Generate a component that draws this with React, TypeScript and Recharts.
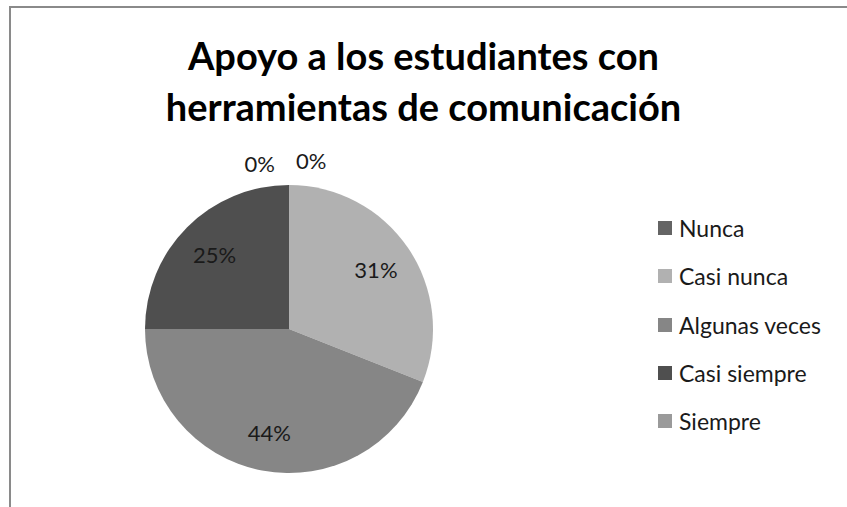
import React from "react";
import { PieChart, Pie, Cell, Legend } from "recharts";

const categories = ["Nunca", "Casi nunca", "Algunas veces", "Casi siempre", "Siempre"];
const values = [0, 31, 44, 25, 0];
const colors = ["#646464", "#b1b1b1", "#868686", "#4f4f4f", "#9a9a9a"];
const titleLines = ["Apoyo a los estudiantes con", "herramientas de comunicación"];

const data = categories.map((name, i) => ({ name, value: values[i] }));
const total = values.reduce((a, b) => a + b, 0);

const FONT = "Lato, 'Open Sans', sans-serif";
const RAD = Math.PI / 180;

const renderLabel = (props: any) => {
  const { cx, cy, midAngle, outerRadius, value, index } = props;
  const pct = Math.round((value / total) * 100);
  const text = `${pct}%`;
  if (value === 0) {
    const first = index === 0;
    const r = outerRadius + (first ? 25 : 22);
    const x = cx + r * Math.cos(-midAngle * RAD) + (first ? 7 : -14);
    const y = cy + r * Math.sin(-midAngle * RAD);
    return (
      <text x={x} y={y} fill="#1a1a1a" fontSize={22} fontFamily={FONT}
        textAnchor={first ? "start" : "end"} dominantBaseline="central">
        {text}
      </text>
    );
  }
  const r = outerRadius * 0.73;
  const x = cx + r * Math.cos(-midAngle * RAD);
  const y = cy + r * Math.sin(-midAngle * RAD);
  return (
    <text x={x} y={y} fill="#1a1a1a" fontSize={22} fontFamily={FONT}
      textAnchor="middle" dominantBaseline="central">
      {text}
    </text>
  );
};

const LegendContent = () => (
  <div style={{ fontFamily: FONT }}>
    {categories.map((name, i) => (
      <div key={name} style={{ display: "flex", alignItems: "center", height: 48.25 }}>
        <div style={{ width: 14, height: 14, background: colors[i], marginRight: 7, flex: "none" }} />
        <span style={{ fontSize: 23, color: "#1a1a1a", lineHeight: "24px", whiteSpace: "nowrap" }}>{name}</span>
      </div>
    ))}
  </div>
);

export default function App() {
  return (
    <div style={{ position: "absolute", left: 0, top: 0, width: 847, height: 507, background: "#fff", overflow: "hidden" }}>
      <div style={{ position: "absolute", left: 9, top: 6, width: 860, height: 520, borderTop: "2px solid #8a8a8a", borderLeft: "2px solid #8a8a8a" }} />
      {titleLines.map((t, i) => (
        <div key={i} style={{ position: "absolute", left: 0, width: 847, top: i === 0 ? 32 : 83, textAlign: "center", fontFamily: FONT, fontWeight: 700, fontSize: 38, lineHeight: "46px", color: "#000" }}>
          {t}
        </div>
      ))}
      <div style={{ position: "absolute", left: 0, top: 0 }}>
        <PieChart width={847} height={507} margin={{ top: 0, right: 0, bottom: 0, left: 0 }}>
          <Pie
            data={data}
            dataKey="value"
            nameKey="name"
            cx={289}
            cy={329}
            outerRadius={144}
            startAngle={90}
            endAngle={-270}
            stroke="none"
            label={renderLabel}
            labelLine={false}
            isAnimationActive={false}
          >
            {data.map((d, i) => (
              <Cell key={d.name} fill={colors[i]} />
            ))}
          </Pie>
          <Legend
            layout="vertical"
            content={<LegendContent />}
            wrapperStyle={{ position: "absolute", left: 658, top: 204, width: 190 }}
          />
        </PieChart>
      </div>
    </div>
  );
}
